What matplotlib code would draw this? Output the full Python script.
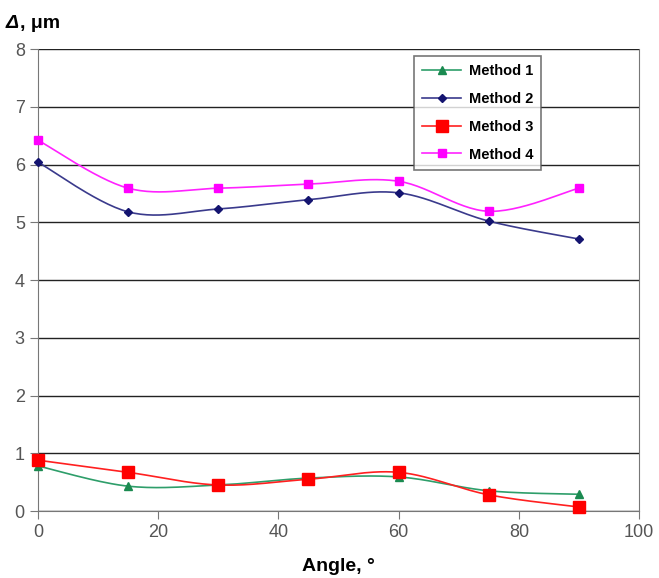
# -*- coding: utf-8 -*-
import numpy as np
import matplotlib
matplotlib.use('Agg')
import matplotlib.pyplot as plt
from matplotlib.lines import Line2D

plt.rcParams['font.family'] = ['Liberation Sans', 'DejaVu Sans']

angles = [0, 15, 30, 45, 60, 75, 90]
method1 = [0.78, 0.43, 0.45, 0.57, 0.59, 0.35, 0.29]
method2 = [6.04, 5.18, 5.23, 5.39, 5.51, 5.02, 4.71]
method3 = [0.88, 0.67, 0.45, 0.55, 0.67, 0.28, 0.07]
method4 = [6.42, 5.59, 5.59, 5.66, 5.71, 5.19, 5.59]
labels = ['Method 1', 'Method 2', 'Method 3', 'Method 4']


def smooth(x, y, n=30):
    # Catmull-Rom style curve, like Excel "smoothed line"
    x = np.asarray(x, float)
    y = np.asarray(y, float)
    px = np.concatenate([[x[0]], x, [x[-1]]])
    py = np.concatenate([[y[0]], y, [y[-1]]])
    xs, ys = [], []
    t = np.linspace(0, 1, n)
    for i in range(1, len(px) - 2):
        p0, p1, p2, p3 = (np.array([px[j], py[j]]) for j in range(i - 1, i + 3))
        c1 = p1 + (p2 - p0) / 6.0
        c2 = p2 - (p3 - p1) / 6.0
        b = ((1 - t) ** 3)[:, None] * p1 + (3 * (1 - t) ** 2 * t)[:, None] * c1 \
            + (3 * (1 - t) * t ** 2)[:, None] * c2 + (t ** 3)[:, None] * p2
        xs.extend(b[:, 0])
        ys.extend(b[:, 1])
    return xs, ys


fig = plt.figure(figsize=(6.59, 5.78), dpi=100)
ax = fig.add_axes([0.0577, 0.1159, 0.912, 0.7993])

styles = [
    (method1, '#2e9e6a', '^', 6),
    (method2, '#3a3a8c', 'D', 4.5),
    (method3, '#ff2020', 's', 9),
    (method4, '#ff22ff', 's', 5.5),
]
mcols = ['#1a8a50', '#141470', '#ff0000', '#ff00ff']

handles = []
for (vals, col, mk, ms), mc, lab in zip(styles, mcols, labels):
    sx, sy = smooth(angles, vals)
    ax.plot(sx, sy, color=col, lw=1.2, zorder=3, clip_on=False)
    ax.plot(angles, vals, ls='none', marker=mk, ms=ms, color=mc, zorder=4, clip_on=False)
    handles.append(Line2D([], [], color=col, lw=1.2, marker=mk, ms=ms, markerfacecolor=mc,
                          markeredgecolor=mc))

ax.set_xlim(0, 100)
ax.set_ylim(0, 8)
ax.set_xticks(range(0, 101, 20))
ax.set_yticks(range(0, 9))
ax.grid(axis='y', color='#222222', lw=1.0)
ax.set_axisbelow(True)
ax.spines['top'].set_visible(False)
for s in ['left', 'bottom', 'right']:
    ax.spines[s].set_color('#777777')
ax.tick_params(axis='both', direction='out', length=6, color='#777777',
               labelsize=13, labelcolor='#555555')

ax.set_xlabel(u'Angle, \N{DEGREE SIGN}', fontsize=14, fontweight='bold', labelpad=12)
fig.text(0.008, 0.952, u'\u0394', fontsize=14, fontweight='bold', style='italic')
fig.text(0.030, 0.952, u', \u03bcm', fontsize=14, fontweight='bold')

leg = ax.legend(handles, labels, loc='upper left', bbox_to_anchor=(0.6256, 0.985),
                borderaxespad=0, frameon=True, fancybox=False, handlelength=2.7,
                handletextpad=0.5, labelspacing=0.95, borderpad=0.55,
                prop={'weight': 'bold', 'size': 10.5})
leg.get_frame().set_edgecolor('#555555')
leg.get_frame().set_linewidth(1.2)

fig.savefig('out.png', dpi=100)
